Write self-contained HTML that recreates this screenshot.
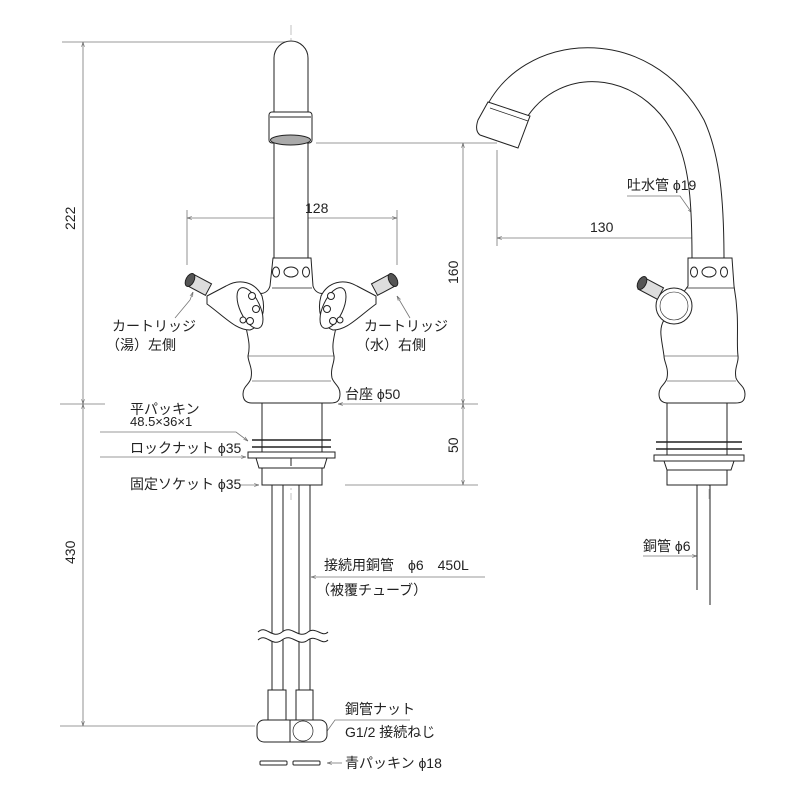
<!DOCTYPE html>
<html><head><meta charset="utf-8"><style>
html,body{margin:0;padding:0;background:#fff;}
svg{display:block;}
text{font-family:"Liberation Sans","Noto Sans CJK JP",sans-serif;fill:#222;}
</style></head><body>
<svg width="800" height="800" viewBox="0 0 800 800" xmlns="http://www.w3.org/2000/svg">
<defs>
<marker id="a" viewBox="0 0 10 10" refX="10" refY="5" markerWidth="6" markerHeight="6" orient="auto-start-reverse"><path d="M0,2 L10,5 L0,8" fill="none" stroke="#666" stroke-width="1.2"/></marker>
</defs>
<g fill="none" stroke="#777" stroke-width="0.8">
<line x1="62" y1="42" x2="290" y2="42"/>
<line x1="60" y1="404" x2="105" y2="404"/>
<line x1="60" y1="726" x2="255" y2="726"/>
<line x1="83" y1="42" x2="83" y2="404" marker-start="url(#a)" marker-end="url(#a)"/>
<line x1="83" y1="404" x2="83" y2="726" marker-start="url(#a)" marker-end="url(#a)"/>
<line x1="187" y1="210" x2="187" y2="265"/>
<line x1="397" y1="210" x2="397" y2="265"/>
<line x1="187" y1="218" x2="397" y2="218" marker-start="url(#a)" marker-end="url(#a)"/>
<line x1="316" y1="143" x2="497" y2="143"/>
<line x1="463" y1="143" x2="463" y2="404" marker-start="url(#a)" marker-end="url(#a)"/>
<line x1="463" y1="404" x2="463" y2="485" marker-start="url(#a)" marker-end="url(#a)"/>
<line x1="340" y1="404" x2="478" y2="404"/>
<line x1="345" y1="485" x2="478" y2="485"/>
<line x1="342" y1="404" x2="338" y2="404" marker-end="url(#a)"/>
<line x1="497" y1="150" x2="497" y2="246"/>
<line x1="497" y1="238" x2="708" y2="238" marker-start="url(#a)" marker-end="url(#a)"/>
<line x1="190" y1="300" x2="175" y2="318"/><line x1="190" y1="300" x2="193" y2="292" marker-end="url(#a)"/>
<line x1="410" y1="318" x2="397" y2="296" marker-end="url(#a)"/>
<path d="M100 432 L236 432 L248 441" marker-end="url(#a)"/>
<line x1="100" y1="457" x2="246" y2="457" marker-end="url(#a)"/>
<line x1="240" y1="485" x2="259" y2="485" marker-end="url(#a)"/>
<line x1="485" y1="577" x2="311" y2="577" marker-end="url(#a)"/>
<path d="M627 196 L680 196 L692 213" marker-end="url(#a)"/>
<line x1="643" y1="556" x2="697" y2="556" marker-end="url(#a)"/>
<path d="M410 720 L335 720 L325 734"/>
<line x1="342" y1="763" x2="327" y2="763" marker-end="url(#a)"/>
</g>
<g stroke="#999" stroke-width="0.6" stroke-dasharray="10,3,2,3" fill="none">
<line x1="291" y1="25" x2="291" y2="500"/>
<line x1="277" y1="490" x2="277" y2="740"/>
<line x1="305" y1="490" x2="305" y2="740"/>
<line x1="709" y1="255" x2="709" y2="500"/>
<path d="M500 125 C540 50 640 40 688 120 C704 150 708 200 708 255"/>
</g>
<g fill="#fff" stroke="#222" stroke-width="1">
<path d="M274 260 L274 58 A17 17 0 0 1 308 58 L308 260"/>
<rect x="269" y="112" width="43" height="31" rx="3"/>
<line x1="270" y1="117" x2="311" y2="117"/>
<ellipse cx="290.5" cy="140" rx="20" ry="5" fill="#aaa"/>
<path d="M273 258 L311 258 L313 286 C316 296 328 296 336 286 L340 300 C338 330 330 340 334 356 C335 362 330 368 332 378 C334 384 340 386 340 394 C340 402 336 403 330 403 L252 403 C246 403 243 400 243 394 C243 386 250 384 251 378 C253 368 248 362 248 356 C252 340 244 330 242 300 L247 286 C255 296 267 296 270 286 Z"/>
<line x1="248" y1="356" x2="334" y2="356" stroke-width="0.6"/>
<line x1="252" y1="381" x2="331" y2="381" stroke-width="0.6"/>
<line x1="272" y1="288" x2="312" y2="288" stroke-width="0.7"/>
<ellipse cx="291" cy="272" rx="7" ry="5"/><ellipse cx="276" cy="272" rx="3.5" ry="5"/><ellipse cx="306" cy="272" rx="3.5" ry="5"/>
<path d="M207 296 L226 286 C240 278 255 282 262 296 C266 310 262 326 250 330 C236 330 226 318 207 304 Z"/>
<ellipse cx="250" cy="308" rx="10" ry="22" transform="rotate(-25 250 308)"/>
<circle cx="252" cy="296" r="3.5"/><circle cx="256" cy="309" r="3.5"/><circle cx="250" cy="321" r="3.5"/><circle cx="243" cy="320" r="3"/>
<rect x="188" y="278" width="22" height="13" transform="rotate(28 199 284)" fill="#ddd"/>
<ellipse cx="190" cy="280" rx="4" ry="7" transform="rotate(28 190 280)" fill="#555"/>
<path d="M376 296 L357 286 C343 278 328 282 321 296 C317 310 321 326 333 330 C347 330 357 318 376 304 Z"/>
<ellipse cx="333" cy="308" rx="10" ry="22" transform="rotate(25 333 308)"/>
<circle cx="331" cy="296" r="3.5"/><circle cx="327" cy="309" r="3.5"/><circle cx="333" cy="321" r="3.5"/><circle cx="340" cy="320" r="3"/>
<rect x="373" y="278" width="22" height="13" transform="rotate(-28 384 284)" fill="#ddd"/>
<ellipse cx="393" cy="280" rx="4" ry="7" transform="rotate(-28 393 280)" fill="#555"/>
<rect x="262" y="403" width="60" height="82"/>
<line x1="252" y1="440" x2="331" y2="440" stroke-width="1.5"/>
<line x1="252" y1="447" x2="331" y2="447" stroke-width="1.5"/>
<rect x="248" y="452" width="87" height="6"/>
<path d="M256 458 L327 458 L324 468 L259 468 Z"/>
<line x1="291" y1="458" x2="291" y2="466"/>
<rect x="272" y="485" width="11" height="205"/>
<rect x="299" y="485" width="11" height="205"/>
<path d="M268 690 L286 690 L286 722 L268 722 Z"/>
<path d="M296 690 L313 690 L313 722 L296 722 Z"/>
<path d="M258 632 C266 624 272 640 282 632 C292 624 298 640 308 632 C316 626 322 638 328 632 L328 640 C322 646 316 634 308 640 C298 648 292 632 282 640 C272 648 266 632 258 640 Z" stroke="none"/>
<path d="M258 632 C266 624 272 640 282 632 C292 624 298 640 308 632 C316 626 322 638 328 632 M258 640 C266 632 272 648 282 640 C292 632 298 648 308 640 C316 634 322 646 328 640" fill="none"/>
<rect x="257" y="720" width="70" height="22" rx="7"/>
<line x1="290" y1="720" x2="290" y2="742"/>
<circle cx="303" cy="731" r="10" stroke-width="0.7"/>
<rect x="260" y="761" width="27" height="4" rx="1"/>
<rect x="293" y="761" width="27" height="4" rx="1"/>
<!-- RIGHT spout -->
<path d="M484 112 C520 30 650 20 704 120 C720 155 724 200 724 260 L692 260 C692 210 690 175 680 148 C650 70 560 60 524 122 Z"/>
<path d="M488 102 L530 116 L518 148 L480 135 C476 132 476 126 478 120 Z"/>
<line x1="490" y1="108" x2="528" y2="121" stroke-width="0.7"/>
<path d="M688 258 L732 258 L734 286 C740 320 736 340 738 356 C739 362 734 368 736 378 C738 384 745 386 745 394 C745 402 741 403 735 403 L668 403 C662 403 659 400 659 394 C659 386 666 384 667 378 C669 368 664 362 664 356 C662 340 658 330 664 320 L688 286 Z"/>
<line x1="664" y1="356" x2="738" y2="356" stroke-width="0.6"/>
<line x1="667" y1="381" x2="736" y2="381" stroke-width="0.6"/>
<line x1="686" y1="288" x2="734" y2="288" stroke-width="0.7"/>
<ellipse cx="709" cy="272" rx="7" ry="5"/><ellipse cx="694" cy="272" rx="3.5" ry="5"/><ellipse cx="724" cy="272" rx="3.5" ry="5"/>
<circle cx="674" cy="306" r="18"/>
<circle cx="674" cy="306" r="14" stroke-width="0.6"/>
<rect x="640" y="282" width="22" height="13" transform="rotate(28 651 288)" fill="#ddd"/>
<ellipse cx="642" cy="283" rx="4" ry="7" transform="rotate(28 642 283)" fill="#555"/>
<rect x="667" y="403" width="60" height="82"/>
<line x1="656" y1="442" x2="742" y2="442" stroke-width="1.5"/>
<line x1="656" y1="449" x2="742" y2="449" stroke-width="1.5"/>
<rect x="654" y="455" width="90" height="6"/>
<path d="M664 461 L734 461 L731 470 L667 470 Z"/>
<line x1="697" y1="485" x2="697" y2="590"/>
<line x1="710" y1="485" x2="710" y2="605"/>
</g>
<g font-size="14">
<text x="0" y="0" transform="translate(75 230) rotate(-90)">222</text>
<text x="0" y="0" transform="translate(75 564) rotate(-90)">430</text>
<text x="0" y="0" transform="translate(458 284) rotate(-90)">160</text>
<text x="0" y="0" transform="translate(458 453) rotate(-90)">50</text>
<text x="305" y="213">128</text>
<text x="590" y="232">130</text>
<text x="627" y="190">吐水管 ϕ19</text>
<text x="112" y="331">カートリッジ</text>
<text x="106" y="350">（湯）左側</text>
<text x="364" y="331">カートリッジ</text>
<text x="356" y="350">（水）右側</text>
<text x="345" y="399">台座 ϕ50</text>
<text x="130" y="414">平パッキン</text>
<text x="130" y="426" font-size="13">48.5×36×1</text>
<text x="130" y="453">ロックナット ϕ35</text>
<text x="130" y="489">固定ソケット ϕ35</text>
<text x="324" y="570">接続用銅管　ϕ6　450L</text>
<text x="316" y="595">（被覆チューブ）</text>
<text x="345" y="714">銅管ナット</text>
<text x="345" y="737">G1/2 接続ねじ</text>
<text x="345" y="768">青パッキン ϕ18</text>
<text x="643" y="551">銅管 ϕ6</text>
</g>
</svg>
</body></html>
